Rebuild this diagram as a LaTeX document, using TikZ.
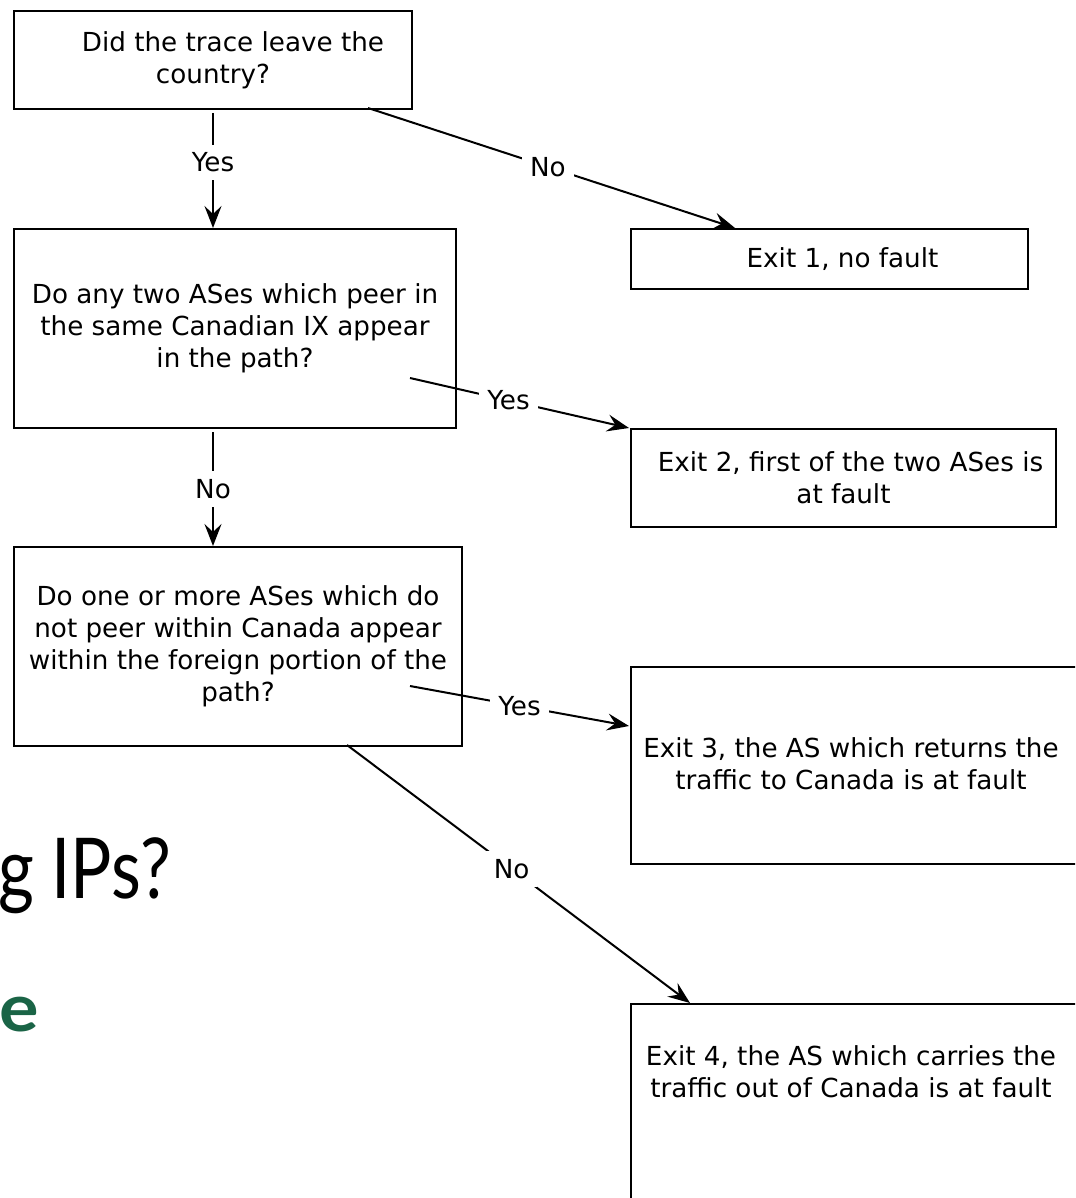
\documentclass[tikz,border=0pt]{standalone}
\usepackage{fontspec}
\setmainfont{DejaVu Sans}
\newfontfamily\slidefont{Lato}
\usetikzlibrary{arrows.meta,calc}
\definecolor{slidegreen}{HTML}{1A6446}
\begin{document}
\begin{tikzpicture}[x=1pt,y=-1pt,
  box/.style={draw,line width=2pt,align=center,inner sep=0pt,anchor=north west,
    font=\fontsize{26.2}{32}\selectfont},
  txt/.style={align=center,inner sep=0pt,font=\fontsize{26.2}{32}\selectfont},
  lab/.style={fill=white,inner sep=8pt,font=\fontsize{26.2}{30}\selectfont},
  conn/.style={line width=2pt,-{Stealth[length=22pt,width=17pt,inset=8pt]}}]
\useasboundingbox (0,0) rectangle (1075,1198);
\clip (0,0) rectangle (1075,1198);
% background slide remnants
\node[anchor=base west,inner sep=0pt,font=\slidefont\fontsize{84}{84}\selectfont] (bg1) at (-2,898) {\scalebox{0.82}[1]{g IPs?}};
\node[anchor=base west,inner sep=0pt,text=slidegreen,font=\slidefont\bfseries\fontsize{66}{66}\selectfont] (bg2) at (-1,1031) {\scalebox{1.12}[1]{e}};
% boxes
\node[box,minimum width=398pt,minimum height=98pt] (q1) at (13,10) {\hspace*{40pt}Did the trace leave the\\country?};
\node[box,minimum width=442pt,minimum height=199pt] (q2) at (13,228) {Do any two ASes which peer in\\the same Canadian IX appear\\in the path?};
\node[box,minimum width=448pt,minimum height=199pt] (q3) at (13,546) {Do one or more ASes which do\\not peer within Canada appear\\within the foreign portion of the\\path?};
\node[box,minimum width=397pt,minimum height=60pt] (e1) at (630,228) {\hspace*{26pt}Exit 1, no fault};
\node[box,minimum width=425pt,minimum height=98pt] (e2) at (630,428) {\hspace*{14pt}Exit 2, first of the two ASes is\\at fault};
\node[box,minimum width=460pt,minimum height=197pt] (e3) at (630,666) {};
\node[txt] (e3t) at (851,764) {Exit 3, the AS which returns the\\traffic to Canada is at fault};
\node[box,minimum width=460pt,minimum height=230pt] (e4) at (630,1003) {};
\node[txt] (e4t) at (851,1072) {Exit 4, the AS which carries the\\traffic out of Canada is at fault};
% connectors
\coordinate (s1) at (368,108);
\coordinate (s2) at (410,378);
\coordinate (s3) at (410,686);
\coordinate (s4) at (347,745);
\draw[conn] ($(q1.south)+(0,3)$) -- node[lab,pos=.43]{Yes} (q1.south |- q2.north);
\draw[conn] (s1) -- node[lab,pos=.49]{No} ($(e1.north west)+(105,0)$);
\draw[conn] ($(q1.south |- q2.south)+(0,3)$) -- node[lab,pos=.5]{No} (q1.south |- q3.north);
\draw[conn] (s2) -- node[lab,pos=.45]{Yes} ($(e2.north west)+(-1,0)$);
\draw[conn] (s3) -- node[lab,pos=.5]{Yes} ($(e3.north west)+(-1,60)$);
\draw[conn] (s4) -- node[lab,pos=.48]{No} ($(e4.north west)+(60,0)$);
\end{tikzpicture}
\end{document}
